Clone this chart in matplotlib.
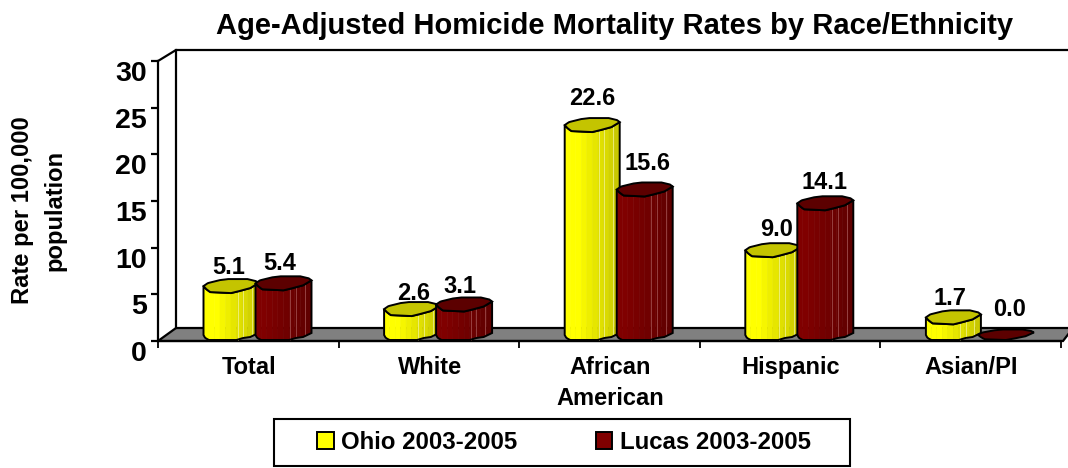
import numpy as np
import matplotlib
matplotlib.use('Agg')
import matplotlib.pyplot as plt
from matplotlib.patches import Polygon, Patch, Rectangle

plt.rcParams['font.family'] = ['Liberation Sans', 'DejaVu Sans']
plt.rcParams['font.weight'] = 'bold'

categories = ['Total', 'White', 'African\nAmerican', 'Hispanic', 'Asian/PI']
ohio = [5.1, 2.6, 22.6, 9.0, 1.7]
lucas = [5.4, 3.1, 15.6, 14.1, 0.0]
y_ticks = [0, 5, 10, 15, 20, 25, 30]

W, H = 1068, 468
AX_L, AX_R, AX_T, AX_B = 158, 1061, 61, 341
PX = 5 / (AX_R - AX_L)    # one pixel in x data units
PY = 30 / (AX_B - AX_T)   # one pixel in y data units
DEPTH_X, DEPTH_Y = 18, 13

# nudges for the value labels, in pixels (ohio, lucas)
ohio_nudge = [(-2, 26), (3, 23), (1, 34), (4, 28), (-3, 26)]
lucas_nudge = [(-3, 27), (-4, 25), (3, 33), (0, 28), (4, 31)]

yellow_bands = ['#ffff00', '#ffff00', '#ffff00', '#f6f600', '#eeee00', '#e6e600',
                '#e0e000', '#dada00', '#d2d200', '#c8c800']
red_bands = ['#800000', '#800000', '#7c0000', '#780000', '#740000', '#700000',
             '#6c0000', '#680000', '#640000', '#600000']


def body_bottom(u):
    return np.interp(u, [0, .03, .1, .6, .72, .85, 1], [5, 2, 0, 0, 2, 3, 7])


def top_front(u):
    return np.interp(u, [0, .05, .12, .5, .65, .85, 1], [7, 4, 1, 0, 2, 5, 10])


def top_back(u):
    return np.interp(u, [0, .08, .3, .45, .8, .95, 1], [7, 10, 13, 14, 14, 12, 10])


def draw_bar(ax, x0, width, value, bands, top_color, seam, zorder):
    base = 1 * PY
    top = value * 9.2 / 9.333
    squash = 0.75 if value == 0 else 1
    edges = np.linspace(0, 1, len(bands) + 1)
    if value > 0:
        for i, col in enumerate(bands):
            u = np.linspace(edges[i], edges[i + 1], 4)
            xs = x0 + u * width
            low = base + body_bottom(u) * PY
            up = base + top + top_front(u) * PY
            pts = list(zip(xs, low)) + list(zip(xs[::-1], up[::-1]))
            ax.add_patch(Polygon(pts, fc=col, ec=col, lw=.4, clip_on=False, zorder=zorder))
        for s in [.62, .72, .88]:
            ax.plot([x0 + s * width] * 2, [base + body_bottom(s) * PY, base + top + top_front(s) * PY],
                    color=seam, lw=.5, clip_on=False, zorder=zorder + .05)
        u = np.linspace(0, 1, 41)
        xs = x0 + u * width
        pts = list(zip(xs, base + body_bottom(u) * PY)) + \
            list(zip(xs[::-1], base + top + top_front(u[::-1]) * PY))
        ax.add_patch(Polygon(pts, fc='none', ec='black', lw=1.4, clip_on=False, zorder=zorder + .1))
    u = np.linspace(0, 1, 41)
    xs = x0 + u * width
    pts = list(zip(xs, base + top + top_front(u) * PY * squash)) + \
        list(zip(xs[::-1], base + top + top_back(u[::-1]) * PY * squash))
    ax.add_patch(Polygon(pts, fc=top_color, ec='black', lw=1.4, clip_on=False, zorder=zorder + .2))


fig = plt.figure(figsize=(W / 100, H / 100), dpi=100)
ax = fig.add_axes([AX_L / W, 1 - AX_B / H, (AX_R - AX_L) / W, (AX_B - AX_T) / H])
ax.set_xlim(0, 5)
ax.set_ylim(0, 30)
ax.patch.set_alpha(0)

# floor and back wall
right = (W + 5 - AX_L) * PX
floor = [(0, 0), (DEPTH_X * PX, DEPTH_Y * PY), (right, DEPTH_Y * PY), (right - 10 * PX, 0)]
ax.add_patch(Polygon(floor, fc='#808080', ec='black', lw=1.6, clip_on=False, zorder=1))
wall_top = 30 + 11 * PY
ax.plot([DEPTH_X * PX, DEPTH_X * PX], [DEPTH_Y * PY, wall_top], color='black', lw=1.6, clip_on=False, zorder=1)
ax.plot([0, DEPTH_X * PX, right], [30, wall_top, wall_top], color='black', lw=1.6, clip_on=False, zorder=1)

for i in range(len(categories)):
    draw_bar(ax, i + 45.5 * PX, 55 * PX, ohio[i], yellow_bands, '#c4c400', '#f4f4a0', 3 + i)
    draw_bar(ax, i + 97.5 * PX, 56 * PX, lucas[i], red_bands, '#5c0000', '#a85858', 3.5 + i)
    dx, dy = ohio_nudge[i]
    ax.text(i + (45 + 27.5 + dx) * PX, ohio[i] * 9.2 / 9.333 + (1 + dy) * PY, '%.1f' % ohio[i],
            ha='center', va='center', fontsize=17, zorder=20, clip_on=False)
    dx, dy = lucas_nudge[i]
    ax.text(i + (97 + 28 + dx) * PX, lucas[i] * 9.2 / 9.333 + (1 + dy) * PY, '%.1f' % lucas[i],
            ha='center', va='center', fontsize=17, zorder=20, clip_on=False)

for s in ['top', 'right']:
    ax.spines[s].set_visible(False)
for s in ['left', 'bottom']:
    ax.spines[s].set_linewidth(1.6)
    ax.spines[s].set_zorder(2)

ax.set_yticks(y_ticks)
ax.tick_params(axis='y', labelsize=20.5, width=1.6, length=5, pad=3)
for lab in ax.get_yticklabels():
    lab.set_va('top')

ax.set_xticks(range(6))
ax.set_xticklabels([])
ax.tick_params(axis='x', which='major', width=1.3, length=5)
ax.set_xticks(np.arange(5) + .505, minor=True)
ax.set_xticklabels(categories, minor=True, fontsize=17, linespacing=1.45, va='top')
ax.tick_params(axis='x', which='minor', length=0, pad=11)

fig.text(216 / W, 1 - 26 / H, 'Age-Adjusted Homicide Mortality Rates by Race/Ethnicity',
         fontsize=21, ha='left', va='center')
fig.text(38.5 / W, 1 - 210 / H, 'Rate per 100,000\npopulation', fontsize=17.1, rotation=90,
         ha='center', va='center', linespacing=1.5, multialignment='center')

fig.add_artist(Rectangle((274 / W, 1 - 466 / H), 576 / W, 47 / H, transform=fig.transFigure,
                         fc='white', ec='black', lw=1.5))
handles = [Patch(fc='#ffff00', ec='black', lw=1.4, label='Ohio 2003-2005'),
           Patch(fc='#800000', ec='black', lw=1.4, label='Lucas 2003-2005')]
leg = fig.legend(handles=handles, loc='center', bbox_to_anchor=(564 / W, 1 - 442.5 / H), ncol=2,
                 frameon=False, fontsize=17.3, handlelength=.67, handleheight=.67,
                 handletextpad=.3, columnspacing=3.3, borderpad=0, borderaxespad=0)

fig.savefig('out.png', dpi=100)
